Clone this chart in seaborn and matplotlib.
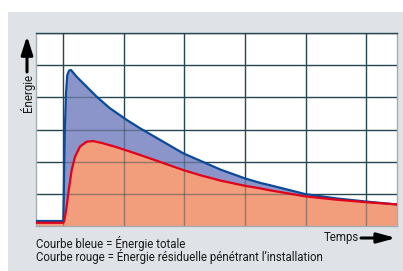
import matplotlib
matplotlib.use("Agg")
import matplotlib.pyplot as plt
import seaborn as sns
import numpy as np
from matplotlib.patches import Rectangle

# ---- data ----
blue_x = [-0.45, 0.0, 0.008, 0.0165, 0.028, 0.045, 0.066, 0.095, 0.127, 0.221, 0.386,
          0.551, 0.771, 1.046, 1.266, 1.98, 2.26, 2.6, 3.0, 3.25, 3.41, 4.0, 4.5, 5.0, 5.51]
blue_y = [0.155, 0.155, 0.8, 2.05, 3.09, 4.12, 4.69, 4.83, 4.85, 4.64, 4.33,
          4.02, 3.66, 3.30, 3.04, 2.26, 2.03, 1.75, 1.48, 1.34, 1.27, 0.99, 0.86, 0.76, 0.67]
red_x = [-0.45, 0.0, 0.012, 0.03, 0.056, 0.083, 0.139, 0.193, 0.276, 0.386, 0.495, 0.66,
         0.881, 1.266, 1.51, 1.98, 2.26, 2.6, 3.0, 3.25, 3.41, 4.0, 4.5, 5.0, 5.51]
red_y = [0.10, 0.10, 0.134, 0.30, 0.60, 1.02, 1.74, 2.15, 2.47, 2.62, 2.64, 2.57,
         2.45, 2.21, 2.05, 1.74, 1.58, 1.41, 1.25, 1.17, 1.11, 0.92, 0.82, 0.74, 0.67]
legend_lines = ["Courbe bleue = Énergie totale",
                "Courbe rouge = Énergie résiduelle pénétrant l’installation"]
y_label = "Énergie"
x_label = "Temps"

sns.set_style("white")
plt.rcParams['font.family'] = ['Roboto', 'DejaVu Sans']

W, H = 403, 271
fig = plt.figure(figsize=(W / 100, H / 100), dpi=100, facecolor="white")

# background panel
bg = fig.add_axes([0, 0, 1, 1], zorder=-5)
bg.set_axis_off()
bg.set_xlim(0, W); bg.set_ylim(H, 0)
bg.add_patch(Rectangle((8, 12), W - 8, H - 12, facecolor="#dfe3e7", edgecolor="none"))

ax = fig.add_axes([36 / W, 1 - 226 / H, (397 - 36) / W, (226 - 33) / H], zorder=1)
ax.set_facecolor("white")
ax.set_xlim(-0.45, 5.51)
ax.set_ylim(0, 6)

grid_c = "#26474f"
for gx in range(0, 6):
    ax.axvline(gx, color=grid_c, lw=1.0, zorder=0.5)
for gy in range(1, 7):
    ax.axhline(gy, color=grid_c, lw=1.0, zorder=0.5)

bx = np.array(blue_x); by = np.array(blue_y)
rx = np.array(red_x); ry = np.array(red_y)
poly_b = ax.fill_between(bx, 0, by, color="#8c95c9", lw=0, zorder=1)
ax.fill_between(rx, 0, ry, color="#f29d7b", lw=0, zorder=1.2)

# grid seen through the filled area
path = poly_b.get_paths()[0]
for gx in range(0, 6):
    ln = ax.axvline(gx, color=grid_c, lw=1.0, alpha=0.45, zorder=1.5)
    ln.set_clip_path(path, poly_b.get_transform())
for gy in range(1, 6):
    ln = ax.axhline(gy, color=grid_c, lw=1.0, alpha=0.45, zorder=1.5)
    ln.set_clip_path(path, poly_b.get_transform())

sns.lineplot(x=bx, y=by, ax=ax, color="#0a4a9b", lw=1.6, sort=False, zorder=3)
sns.lineplot(x=rx, y=ry, ax=ax, color="#e2001a", lw=1.6, sort=False, zorder=4)

ax.set_xticks([]); ax.set_yticks([])
ax.set_xlabel(""); ax.set_ylabel("")
for s in ["left", "bottom", "right"]:
    ax.spines[s].set_color("#a3adb4")
    ax.spines[s].set_linewidth(1.0)
ax.spines["top"].set_color(grid_c)
ax.spines["top"].set_linewidth(1.0)

ann = fig.add_axes([0, 0, 1, 1], zorder=2, facecolor="none")
ann.set_axis_off()
ann.set_xlim(0, W); ann.set_ylim(H, 0)

fs = 8.3
tc = "#1a1a1a"
ann.text(27.5, 93, y_label, rotation=90, ha="center", va="center", fontsize=fs, color=tc)
ann.annotate("", xy=(27, 36), xytext=(27, 72),
             arrowprops=dict(arrowstyle="-|>,head_length=1.1,head_width=0.35",
                             color="black", lw=2.2, shrinkA=0, shrinkB=0))
ann.annotate("", xy=(396, 238), xytext=(361, 238),
             arrowprops=dict(arrowstyle="-|>,head_length=1.1,head_width=0.3",
                             color="black", lw=2.2, shrinkA=0, shrinkB=0))
ann.text(359, 237, x_label, ha="right", va="center", fontsize=fs, color=tc)
ann.text(36, 243.5, legend_lines[0], ha="left", va="center", fontsize=fs, color=tc)
ann.text(36, 257, legend_lines[1], ha="left", va="center", fontsize=fs, color=tc)

fig.savefig("out.png", dpi=100, facecolor="white")
